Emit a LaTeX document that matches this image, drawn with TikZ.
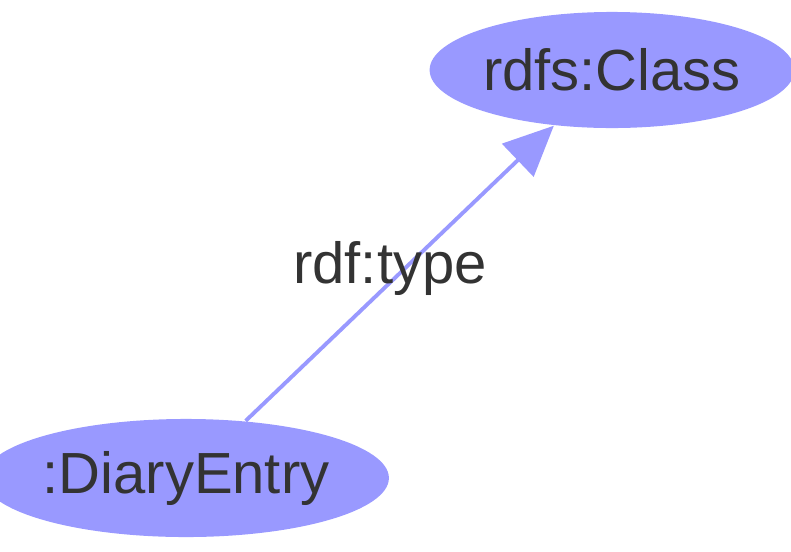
\documentclass[tikz,border=0pt]{standalone}
\usepackage{fontspec}
\setmainfont{Liberation Sans}
\usetikzlibrary{arrows.meta,shapes.geometric}
\definecolor{nodeblue}{HTML}{9999FF}
\definecolor{txt}{HTML}{333333}
\begin{document}
\begin{tikzpicture}[x=0.01cm,y=-0.01cm,
  res/.style={ellipse,fill=nodeblue,draw=none,inner sep=0pt,text=txt,font=\fontsize{16.5}{18}\selectfont},
  edge/.style={draw=nodeblue,line width=1.1pt,-{Triangle[length=0.5cm,width=0.45cm]}},
  lbl/.style={text=txt,font=\fontsize{16.5}{18}\selectfont}]
\useasboundingbox (0,0) rectangle (791,551);
\node[res,minimum width=3.22cm,minimum height=1.16cm] (cls) at (612,70) {rdfs:Class};
\node[res,minimum width=3.48cm,minimum height=1.18cm] (de) at (186,478) {:DiaryEntry};
\draw[edge] (de) -- (cls);
\node[lbl] (l) at (390,268) {rdf:type};
\end{tikzpicture}
\end{document}
